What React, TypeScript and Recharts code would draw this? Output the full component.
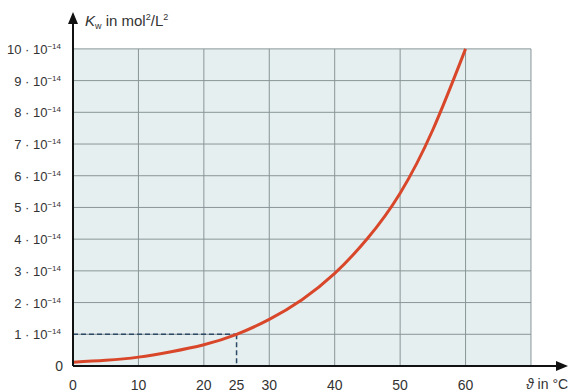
import React from 'react';
import {
  ComposedChart, Line, XAxis, YAxis, ReferenceArea, ReferenceLine, ReferenceDot,
} from 'recharts';

const temps = [0, 5, 10, 15, 20, 25, 30, 35, 40, 45, 50, 55, 60];
const kwValues = [0.12, 0.18, 0.28, 0.45, 0.67, 1.0, 1.47, 2.09, 2.92, 4.02, 5.45, 7.45, 10.0];
const xTicks = [0, 10, 20, 25, 30, 40, 50, 60];
const yTicks = [0, 1, 2, 3, 4, 5, 6, 7, 8, 9, 10];
const xGrid = [10, 20, 30, 40, 50, 60, 70];
const yGrid = [1, 2, 3, 4, 5, 6, 7, 8, 9, 10];
const refT = 25;
const refKw = 1;
const xMax = 75.2;
const yMax = 11.1;
const gridRight = 70;
const gridTop = 10;

const data = temps.map((t, i) => ({ t, kw: kwValues[i] }));

const FONT = 'Liberation Sans, Arial, sans-serif';
const TXT = '#333';

const YTick = (props: any) => {
  const { x, y, payload } = props;
  const v = payload.value;
  if (v === 0) {
    return (
      <text x={x - 2} y={y + 5} textAnchor="end" fontSize={14} fontFamily={FONT} fill={TXT}>0</text>
    );
  }
  return (
    <text x={x - 4} y={y + 5} textAnchor="end" fontSize={13} fontFamily={FONT} fill={TXT}>
      <tspan>{`${v} · 10`}</tspan>
      <tspan fontSize={8} dy={-5}>−14</tspan>
    </text>
  );
};

const XTick = (props: any) => {
  const { x, y, payload } = props;
  return (
    <text x={x} y={y + 16} textAnchor="middle" fontSize={14} fontFamily={FONT} fill={TXT}>{payload.value}</text>
  );
};

const UpArrow = (props: any) => {
  const { cx, cy } = props;
  return <polygon points={`${cx},${cy - 2} ${cx - 5},${cy + 10} ${cx + 5},${cy + 10}`} fill="#111" />;
};
const RightArrow = (props: any) => {
  const { cx, cy } = props;
  return <polygon points={`${cx + 3},${cy} ${cx - 9},${cy - 5} ${cx - 9},${cy + 5}`} fill="#111" />;
};

const YLabel = (props: any) => {
  const vb = props.viewBox || { x: 0, y: 0 };
  return (
    <text x={vb.x + vb.width + 12} y={vb.y + 12} fontSize={15} fontFamily={FONT} fill={TXT}>
      <tspan fontStyle="italic">K</tspan>
      <tspan fontSize={9} dy={3}>w</tspan>
      <tspan dy={-3}> in mol</tspan>
      <tspan fontSize={9} dy={-6}>2</tspan>
      <tspan dy={6}>/L</tspan>
      <tspan fontSize={9} dy={-6}>2</tspan>
    </text>
  );
};

const XLabel = (props: any) => {
  const vb = props.viewBox || { x: 0, y: 0, width: 0 };
  return (
    <text x={vb.x + vb.width - 39} y={vb.y + 23} fontSize={14} fontFamily={FONT} fill={TXT}>
      <tspan fontStyle="italic">ϑ</tspan>
      <tspan> in °C</tspan>
    </text>
  );
};

export default function App() {
  return (
    <div style={{ position: 'absolute', left: 0, top: 0, width: 568, height: 392, background: '#fff' }}>
      <ComposedChart width={568} height={392} data={data} margin={{ top: 14, right: 3, bottom: 0, left: 0 }}>
        <XAxis
          dataKey="t"
          type="number"
          domain={[0, xMax]}
          ticks={xTicks}
          tick={<XTick />}
          tickLine={false}
          axisLine={{ stroke: '#111', strokeWidth: 2 }}
          height={26}
          allowDataOverflow
          interval={0}
          label={<XLabel />}
        />
        <YAxis
          type="number"
          domain={[0, yMax]}
          ticks={yTicks}
          tick={<YTick />}
          tickLine={false}
          axisLine={{ stroke: '#111', strokeWidth: 2 }}
          width={73}
          allowDataOverflow
          interval={0}
          label={<YLabel />}
        />
        <ReferenceArea x1={0} x2={gridRight} y1={0} y2={gridTop} fill="#e6eff0" fillOpacity={1} stroke="none" />
        {xGrid.map((g) => (
          <ReferenceLine key={'x' + g} segment={[{ x: g, y: 0 }, { x: g, y: gridTop }]} stroke="#889597" strokeWidth={1} />
        ))}
        {yGrid.map((g) => (
          <ReferenceLine key={'y' + g} segment={[{ x: 0, y: g }, { x: gridRight, y: g }]} stroke="#889597" strokeWidth={1} />
        ))}
        <ReferenceLine segment={[{ x: 0, y: refKw }, { x: refT, y: refKw }]} stroke="#2c4a66" strokeWidth={1.5} strokeDasharray="5 3" />
        <ReferenceLine segment={[{ x: refT, y: refKw }, { x: refT, y: 0 }]} stroke="#2c4a66" strokeWidth={1.5} strokeDasharray="5 3" />
        <Line
          dataKey="kw"
          type="natural"
          stroke="#d9472b"
          strokeWidth={3}
          dot={false}
          isAnimationActive={false}
        />
        <ReferenceDot x={0} y={yMax} r={0} shape={<UpArrow />} ifOverflow="visible" />
        <ReferenceDot x={xMax} y={0} r={0} shape={<RightArrow />} ifOverflow="visible" />
      </ComposedChart>
    </div>
  );
}
